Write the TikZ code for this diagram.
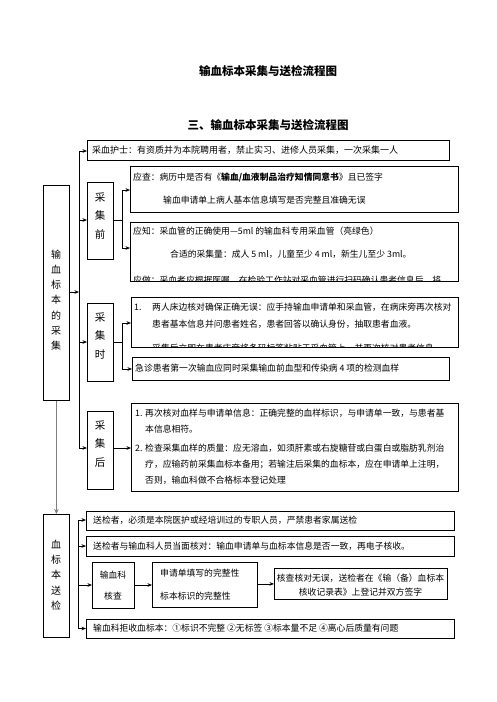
\documentclass[tikz,border=0pt]{standalone}
\usepackage{fontspec}
\setmainfont{Noto Sans CJK SC}
\usetikzlibrary{arrows.meta}
\begin{document}
\begin{tikzpicture}[x=1pt,y=-1pt,
  box/.style={draw, line width=0.8pt, inner sep=0pt, anchor=north west},
  txt/.style={inner sep=0pt, anchor=west, font=\fontsize{8.8}{10}\selectfont},
  ctxt/.style={inner sep=0pt, font=\fontsize{8.8}{10}\selectfont},
  vlab/.style={inner sep=0pt, align=center, font=\fontsize{10.5}{18.5}\selectfont},
  biglab/.style={inner sep=0pt, align=center, font=\fontsize{10}{15.2}\selectfont},
  ttl/.style={inner sep=0pt, font=\bfseries\fontsize{11.5}{13}\selectfont},
  arr/.style={line width=0.7pt, -{Stealth[length=4.5pt,width=3.6pt]}},
  ln/.style={line width=0.7pt}]
\useasboundingbox[fill=white] (0,0) rectangle (496,702);

% titles
\node[ttl] (title1) at (268,71) {输血标本采集与送检流程图};
\node[ttl] (title2) at (268,125) {三、输血标本采集与送检流程图};

% left big boxes
\node[box, minimum width=26pt, minimum height=215pt] (collect) at (43,185) {};
\node[biglab] (collectlab) at (56,300) {输\\血\\标\\本\\的\\采\\集};
\node[box, minimum width=26pt, minimum height=123pt] (send) at (43,514) {};
\node[biglab] (sendlab) at (56,575) {血\\标\\本\\送\\检};
\draw[line width=1.8pt, gray, -{Stealth[length=5pt,width=4.5pt]}] (collect.south) -- (send.north);

% nurse box
\node[box, minimum width=362pt, minimum height=20pt] (nurse) at (87,140) {};
\node[txt, font=\fontsize{9}{10}\selectfont] (nursetxt) at (92,150) {采血护士：有资质并为本院聘用者，禁止实习、进修人员采集，一次采集一人};

% before
\node[box, minimum width=26pt, minimum height=77pt] (before) at (87,182) {};
\node[vlab] (beforelab) at (100,216) {采\\集\\前};
\node[box, minimum width=328pt, minimum height=46pt] (check) at (130,166) {};
\node[txt] (check1) at (133,177) {应查：病历中是否有《\textbf{输血/血液制品治疗知情同意书}》且已签字};
\node[txt] (check2) at (163,200) {输血申请单上病人基本信息填写是否完整且准确无误};
\node[box, minimum width=328pt, minimum height=59pt] (know) at (130,222) {};
\node[txt] (know1) at (133,231) {应知：采血管的正确使用—5ml 的输血科专用采血管（亮绿色）};
\node[txt] (know2) at (170,254) {合适的采集量：成人 5 ml，儿童至少 4 ml，新生儿至少 3ml。};
\begin{scope}
\clip (know.north west) rectangle (know.south east);
\node[txt] (know3) at (133,280) {应做：采血者应根据医嘱，在检验工作站对采血管进行扫码确认患者信息后，将};
\end{scope}

% during
\node[box, minimum width=26pt, minimum height=78pt] (during) at (87,303) {};
\node[vlab] (duringlab) at (100,336) {采\\集\\时};
\node[box, minimum width=327pt, minimum height=50pt] (bedside) at (131,297) {};
\node[txt] (bed0) at (134,307) {1.};
\node[txt] (bed1) at (152,307) {两人床边核对确保正确无误：应手持输血申请单和采血管，在病床旁再次核对};
\node[txt] (bed2) at (152,324) {患者基本信息并问患者姓名，患者回答以确认身份，抽取患者血液。};
\begin{scope}
\clip (bedside.north west) rectangle (bedside.south east);
\node[txt] (bed3) at (152,348.5) {采集后立即在患者床旁将条码标签粘贴于采血管上，并再次核对患者信息};
\end{scope}
\node[box, minimum width=317pt, minimum height=23pt] (emerg) at (132,357) {};
\node[txt] (emergtxt) at (135,368.5) {急诊患者第一次输血应同时采集输血前血型和传染病 4 项的检测血样};

% after
\node[box, minimum width=26pt, minimum height=78pt] (after) at (87,411) {};
\node[vlab] (afterlab) at (100,444) {采\\集\\后};
\node[box, minimum width=327pt, minimum height=88pt] (recheck) at (131,403) {};
\node[txt] (re0) at (135,413) {1.};
\node[txt] (re1) at (145,413) {再次核对血样与申请单信息：正确完整的血样标识，与申请单一致，与患者基};
\node[txt] (re2) at (145,429) {本信息相符。};
\node[txt] (re3) at (135,448) {2.};
\node[txt] (re4) at (145,448) {检查采集血样的质量：应无溶血，如须肝素或右旋糖苷或白蛋白或脂肪乳剂治};
\node[txt] (re5) at (145,464) {疗，应输药前采集血标本备用；若输注后采集的血标本，应在申请单上注明，};
\node[txt] (re6) at (145,480) {否则，输血科做不合格标本登记处理};

% main vertical line (collection)
\coordinate (va) at (79,151);
\coordinate (vb) at (79,448);
\coordinate (vc) at (79,220);
\coordinate (vd) at (79,342);
\coordinate (ve) at (79,292);
\draw[arr] (vb) -- (va) -- (va -| nurse.west);
\draw[arr] (vb) -- (vb -| after.west);
\draw[arr] (vc) -- (vc -| before.west);
\draw[arr] (vd) -- (vd -| during.west);
\draw[arr] (ve -| collect.east) -- (ve);

% branches
\coordinate (bj) at (122,220);
\coordinate (bj1) at (122,190);
\coordinate (bj2) at (122,248);
\draw[ln] (before.east |- bj) -- (bj);
\draw[arr] (bj2) -- (bj1) -- (bj1 -| check.west);
\draw[arr] (bj2) -- (bj2 -| know.west);
\coordinate (dj) at (122,342);
\coordinate (dj1) at (122,323);
\coordinate (dj2) at (122,369);
\draw[ln] (during.east |- dj) -- (dj);
\draw[arr] (dj2) -- (dj1) -- (dj1 -| bedside.west);
\draw[arr] (dj2) -- (dj2 -| emerg.west);
\coordinate (aj) at (113,448);
\draw[arr] (aj) -- (aj -| recheck.west);

% sending section
\node[box, minimum width=368pt, minimum height=19pt] (s1) at (86,511) {};
\node[txt] (s1t) at (93,520.5) {送检者，必须是本院医护或经培训过的专职人员，严禁患者家属送检};
\node[box, minimum width=368pt, minimum height=20pt] (s2) at (86,536) {};
\node[txt] (s2t) at (93,546) {送检者与输血科人员当面核对：输血申请单与血标本信息是否一致，再电子核收。};
\node[box, minimum width=42pt, minimum height=46pt] (lab) at (92,562) {};
\node[ctxt] (labt1) at (113,575) {输血科};
\node[ctxt] (labt2) at (113,596) {核查};
\node[box, minimum width=105pt, minimum height=45pt] (form) at (152,562) {};
\node[txt] (formt1) at (160,573) {申请单填写的完整性};
\node[txt] (formt2) at (160,596) {标本标识的完整性};
\node[box, minimum width=173pt, minimum height=31pt] (ok) at (274,568) {};
\node[ctxt] (okt1) at (360.5,578) {核查核对无误，送检者在《输（备）血标本};
\node[ctxt] (okt2) at (360.5,592) {核收记录表》上登记并双方签字};
\node[box, minimum width=368pt, minimum height=19pt] (s4) at (86,619) {};
\node[txt] (s4t) at (93,628.5) {输血科拒收血标本：①标识不完整 ②无标签 ③标本量不足 ④离心后质量有问题};

\coordinate (wa) at (78,520);
\coordinate (wb) at (78,628.5);
\coordinate (wc) at (78,546);
\coordinate (wd) at (78,585);
\draw[arr] (wb) -- (wa) -- (wa -| s1.west);
\draw[arr] (wb) -- (wb -| s4.west);
\draw[arr] (wc) -- (wc -| s2.west);
\draw[arr] (wd) -- (wd -| lab.west);
\draw[arr] (lab.east |- wd) -- (form.west |- wd);
\draw[arr] (form.east |- ok.west) -- (ok.west);
\end{tikzpicture}
\end{document}
